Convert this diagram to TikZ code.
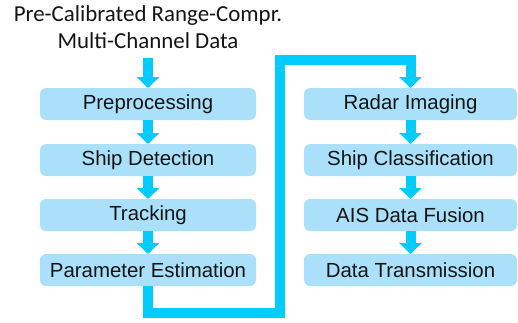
\documentclass[tikz,border=0pt]{standalone}
\usepackage{fontspec}
\setmainfont{Liberation Sans}
\newfontfamily\titlefont{Carlito}
\usetikzlibrary{arrows.meta}

\definecolor{boxfill}{RGB}{171,224,251}
\definecolor{flowcyan}{RGB}{0,204,255}
\definecolor{inktext}{RGB}{20,20,20}

\tikzset{
  stage/.style={fill=boxfill, rounded corners=6pt, minimum height=32pt,
    inner sep=0pt, outer sep=0pt, text=inktext,
    font=\fontsize{20.4}{24}\selectfont},
  leftstage/.style={stage, minimum width=216pt},
  rightstage/.style={stage, minimum width=213pt},
  flow/.style={draw=flowcyan, line width=10pt, line join=miter,
    -{Triangle[width=22pt,length=11pt]}},
}

\begin{document}
\begin{tikzpicture}[x=1pt,y=-1pt]
  \useasboundingbox (0,0) rectangle (518,322);

  % input label
  \node[inner sep=0pt, outer sep=0pt, anchor=south, align=center, text=inktext,
        font=\titlefont\fontsize{22.9}{27}\selectfont]
    (src) at (148,49) {Pre-Calibrated Range-Compr.\\Multi-Channel Data};

  % left column
  \node[leftstage] (pre) at (148,104) {Preprocessing};
  \node[leftstage] (det) at (148,160) {Ship Detection};
  \node[leftstage] (trk) at (148,215) {Tracking};
  \node[leftstage] (par) at (148,270) {Parameter Estimation};

  % right column
  \node[rightstage] (rad) at (410.5,104) {Radar Imaging};
  \node[rightstage] (cls) at (410.5,160) {Ship Classification};
  \node[rightstage] (ais) at (410.5,215) {AIS Data Fusion};
  \node[rightstage] (tx)  at (410.5,270) {Data Transmission};

  % arrows
  \draw[flow, shorten <=9pt] (src) -- (pre);
  \draw[flow] (pre) -- (det);
  \draw[flow] (det) -- (trk);
  \draw[flow] (trk) -- (par);

  \draw[flow] (par.south) |- (280,313) |- (rad.north |- 0,60) -- (rad.north);

  \draw[flow] (rad) -- (cls);
  \draw[flow] (cls) -- (ais);
  \draw[flow] (ais) -- (tx);
\end{tikzpicture}
\end{document}
